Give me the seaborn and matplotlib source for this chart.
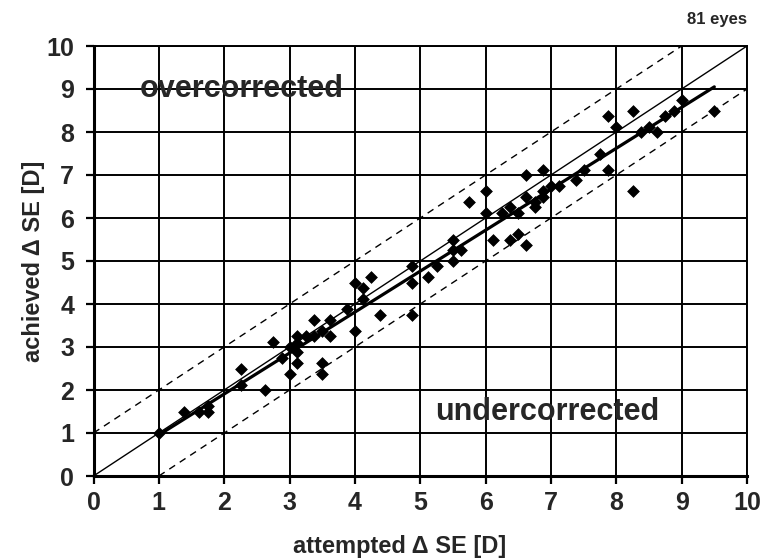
import matplotlib
matplotlib.use("Agg")
import matplotlib.pyplot as plt
import seaborn as sns
import numpy as np
import pandas as pd

attempted = [1.0, 1.38, 1.62, 1.75, 1.75, 2.25, 2.25, 2.62, 2.75, 2.88,
             3.0, 3.0, 3.12, 3.12, 3.12, 3.12, 3.25, 3.38, 3.38, 3.5,
             3.5, 3.5, 3.62, 3.62, 3.88, 4.0, 4.0, 4.12, 4.12, 4.25,
             4.38, 4.88, 4.88, 4.88, 5.12, 5.25, 5.5, 5.5, 5.5, 5.62,
             5.75, 6.0, 6.0, 6.12, 6.25, 6.38, 6.38, 6.5, 6.5, 6.62,
             6.62, 6.62, 6.75, 6.75, 6.88, 6.88, 6.88, 7.0, 7.12, 7.38,
             7.5, 7.75, 7.88, 7.88, 8.0, 8.25, 8.25, 8.38, 8.5, 8.62,
             8.75, 8.88, 9.0, 9.5]
achieved = [1.0, 1.5, 1.5, 1.62, 1.5, 2.5, 2.12, 2.0, 3.12, 2.75,
            2.38, 3.0, 3.25, 3.1, 2.88, 2.62, 3.25, 3.25, 3.62, 3.38,
            2.62, 2.38, 3.62, 3.25, 3.88, 4.5, 3.38, 4.38, 4.12, 4.62,
            3.75, 3.75, 4.88, 4.5, 4.62, 4.88, 5.5, 5.25, 5.0, 5.25,
            6.38, 6.62, 6.12, 5.5, 6.12, 6.25, 5.5, 6.12, 5.62, 5.38,
            6.5, 7.0, 6.25, 6.38, 6.5, 6.62, 7.12, 6.75, 6.75, 6.88,
            7.12, 7.5, 7.12, 8.38, 8.12, 8.5, 6.62, 8.0, 8.12, 8.0,
            8.38, 8.5, 8.75, 8.5]
ticks = list(range(0, 11))
band = 1.0

df = pd.DataFrame({"attempted": attempted, "achieved": achieved})

sns.set_style("white")
plt.rcParams["font.family"] = ["Liberation Sans", "DejaVu Sans"]
plt.rcParams["font.weight"] = "bold"

fig = plt.figure(figsize=(7.61, 5.59), dpi=100)
ax = fig.add_axes([93.5 / 761, 1 - 476 / 559, 653.5 / 761, 430 / 559])

ax.set_xlim(0, 10)
ax.set_ylim(0, 10)
ax.set_xticks(ticks)
ax.set_yticks(ticks)
ax.grid(True, color="black", lw=1.4)
ax.set_axisbelow(True)

ax.axline((0, 0), slope=1, color="black", lw=1.0, zorder=2)
ax.axline((0, band), slope=1, color="black", lw=1.0, ls=(0, (5, 4)), zorder=2)
ax.axline((band, 0), slope=1, color="black", lw=1.0, ls=(0, (5, 4)), zorder=2)

sns.regplot(data=df, x="attempted", y="achieved", scatter=False, ci=None,
            line_kws=dict(color="black", lw=2.3, zorder=3), ax=ax)
sns.scatterplot(data=df, x="attempted", y="achieved", marker="D", s=36,
                color="black", edgecolor="black", linewidth=0.5, zorder=4, ax=ax)

for side in ["left", "bottom"]:
    ax.spines[side].set_linewidth(2.2)
for side in ["top", "right"]:
    ax.spines[side].set_linewidth(1.4)
for s in ax.spines.values():
    s.set_color("black")

ax.tick_params(axis="both", direction="out", length=6, width=1.6, color="black",
               labelsize=18)
ax.tick_params(axis="x", pad=5)
ax.tick_params(axis="y", pad=8)
ax.tick_params(bottom=True, left=True, top=False, right=False)
for lab in ax.get_xticklabels() + ax.get_yticklabels():
    lab.set_fontweight("bold")

ax.set_xlabel("attempted \u0394 SE [D]", fontsize=17, fontweight="bold")
ax.xaxis.set_label_coords(0.468, -0.138)
ax.set_ylabel("achieved \u0394 SE [D]", fontsize=17, fontweight="bold")
ax.yaxis.set_label_coords(-0.074, 0.5)

ax.text(2.27, 9.0, "overcorrected", fontsize=22, fontweight="bold",
        ha="center", va="center", zorder=5)
ax.text(6.94, 1.5, "undercorrected", fontsize=22, fontweight="bold",
        ha="center", va="center", zorder=5)
ax.text(1.0, 1.045, "81 eyes", transform=ax.transAxes, fontsize=12,
        fontweight="bold", ha="right", va="bottom")

fig.savefig("out.png", dpi=100)
